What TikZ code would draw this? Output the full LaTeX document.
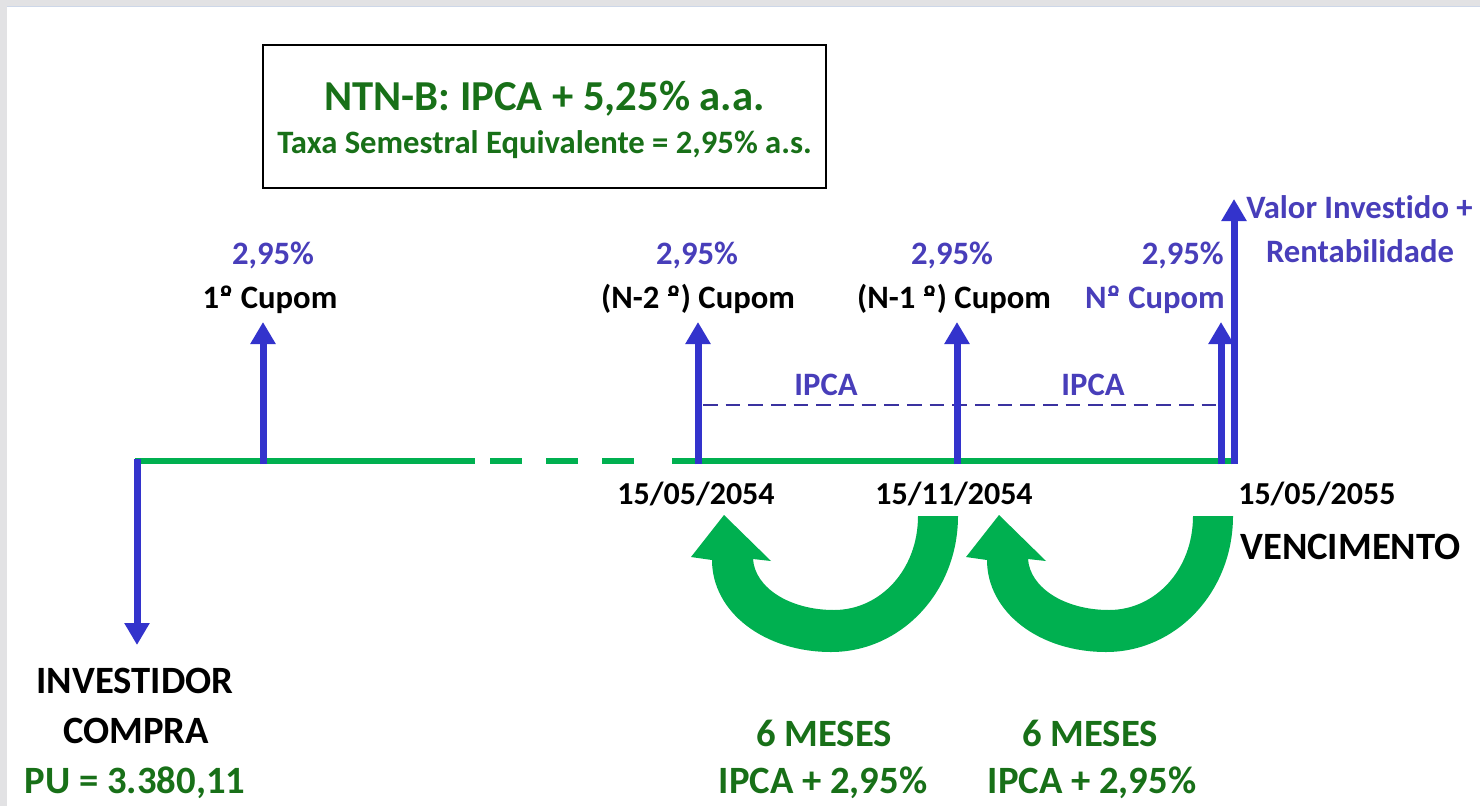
\documentclass[tikz,border=0pt]{standalone}
\usepackage{fontspec}
\setmainfont{Carlito}[Ligatures={NoCommon}]
\usetikzlibrary{arrows.meta}
\definecolor{arrblue}{RGB}{51,51,204}
\definecolor{txtblue}{RGB}{72,62,186}
\definecolor{dashblue}{RGB}{58,50,160}
\definecolor{lgreen}{RGB}{0,176,80}
\definecolor{tgreen}{RGB}{24,112,24}
\definecolor{framegray}{RGB}{226,226,228}
\definecolor{frameline}{RGB}{205,215,232}
\newcommand\ordo{\makebox[0pt][l]{\hspace{0.04em}\raisebox{0.36em}{\rule{0.3em}{0.065em}}}º}
\newcommand\myuarrow[1]{%
  \fill[lgreen,shift={(#1,0)}] (958,516)
    .. controls (958,592) and (901,652) .. (831,652)
    .. controls (764,652) and (712,612) .. (712,560)
    -- (691,557) -- (724,515) -- (771,561) -- (753,559)
    .. controls (755,588) and (790,610) .. (834,610)
    .. controls (880,610) and (918,570) .. (918,516) -- cycle;}
\begin{document}
\begin{tikzpicture}[x=0.75pt,y=-0.75pt,
  every node/.style={inner sep=0pt},
  lbl/.style={font=\fontsize{24.5}{27}\selectfont\bfseries, anchor=base},
  datelbl/.style={font=\fontsize{24}{27}\selectfont\bfseries, anchor=base, text=black},
  biglbl/.style={font=\fontsize{29}{32}\selectfont\bfseries, anchor=base},
  gline/.style={draw=lgreen, line width=4.5pt},
  barrow/.style={draw=arrblue, line width=5.25pt, -{Triangle[width=18pt,length=16.5pt]}},
  dline/.style={draw=dashblue, line width=2.1pt, dash pattern=on 11pt off 6pt}
]
\useasboundingbox (0,0) rectangle (1480,806);
\fill[white] (0,0) rectangle (1480,806);
\fill[framegray] (0,0) rectangle (1480,6);
\fill[framegray] (0,0) rectangle (7,806);
\draw[frameline, line width=0.8pt] (7,6.5) -- (1480,6.5);

% title box
\node[draw=black, line width=1.1pt, minimum width=422.25pt, minimum height=107.25pt] (box) at (544.5,116.5) {};
\node[font=\fontsize{32}{36}\selectfont\bfseries, text=tgreen, anchor=base] (title) at (544.5,111) {NTN-B: IPCA + 5,25\% a.a.};
\node[font=\fontsize{24.5}{27}\selectfont\bfseries, text=tgreen, anchor=base] (subtitle) at (544.5,153) {Taxa Semestral Equivalente = 2,95\% a.s.};

% timeline
\coordinate (t0) at (135,461);
\coordinate (dA) at (475,461);
\coordinate (d1) at (490,461);
\coordinate (d2) at (634,461);
\coordinate (dB) at (672,461);
\coordinate (tend) at (1232,461);
\draw[gline] (t0) -- (dA);
\draw[gline, dash pattern=on 24pt off 18pt] (d1) -- (d2);
\draw[gline] (dB) -- (tend);

% dashed IPCA line
\coordinate (ipA) at (703,405);
\coordinate (ipB) at (1218,405);
\draw[dline] (ipA) -- (ipB);

% arrows
\coordinate (buyS) at (137,459);
\coordinate (buyE) at (137,645);
\coordinate (c1S) at (263,464);
\coordinate (c1E) at (263,322);
\coordinate (c2S) at (698,464);
\coordinate (c2E) at (698,322);
\coordinate (c3S) at (957,464);
\coordinate (c3E) at (957,322);
\coordinate (c4S) at (1221,464);
\coordinate (c4E) at (1221,322);
\coordinate (vS) at (1234,464);
\coordinate (vE) at (1234,199);
\draw[barrow] (buyS) -- (buyE);
\draw[barrow] (c1S) -- (c1E);
\draw[barrow] (c2S) -- (c2E);
\draw[barrow] (c3S) -- (c3E);
\draw[barrow] (c4S) -- (c4E);
\draw[barrow] (vS) -- (vE);

% coupon labels
\node[lbl, text=txtblue] (p1) at (273,264) {2,95\%};
\node[lbl, text=black] (k1) at (270,308) {1\ordo{} Cupom};
\node[lbl, text=txtblue] (p2) at (697,264) {2,95\%};
\node[lbl, text=black] (k2) at (698,308) {(N-2 \ordo) Cupom};
\node[lbl, text=txtblue] (p3) at (952,264) {2,95\%};
\node[lbl, text=black] (k3) at (954,308) {(N-1 \ordo) Cupom};
\node[lbl, text=txtblue, anchor=base east] (p4) at (1224,264) {2,95\%};
\node[lbl, text=txtblue, anchor=base east] (k4) at (1225,308) {N\ordo{} Cupom};
\node[lbl, text=txtblue, anchor=base west] (v1) at (1246,218) {Valor Investido +};
\node[lbl, text=txtblue] (v2) at (1360,262) {Rentabilidade};
\node[lbl, text=txtblue] (ipca1) at (826,395) {IPCA};
\node[lbl, text=txtblue] (ipca2) at (1093,395) {IPCA};

% dates
\node[datelbl] (dt1) at (696,504) {15/05/2054};
\node[datelbl] (dt2) at (954,504) {15/11/2054};
\node[datelbl, anchor=base west] (dt3) at (1238,504) {15/05/2055};
\node[biglbl, text=black, anchor=base west] (venc) at (1240,559) {VENCIMENTO};

% investor
\node[biglbl, text=black] (inv) at (135,693) {INVESTIDOR};
\node[biglbl, text=black] (comp) at (136,743) {COMPRA};
\node[biglbl, text=tgreen] (pu) at (135,793) {PU = 3.380,11};

% curved arrows
\myuarrow{0}
\myuarrow{275}

% period labels
\node[biglbl, text=tgreen] (m1) at (824,746) {6 MESES};
\node[biglbl, text=tgreen] (r1) at (823,793) {IPCA + 2,95\%};
\node[biglbl, text=tgreen] (m2) at (1090,746) {6 MESES};
\node[biglbl, text=tgreen] (r2) at (1092,793) {IPCA + 2,95\%};
\end{tikzpicture}
\end{document}
